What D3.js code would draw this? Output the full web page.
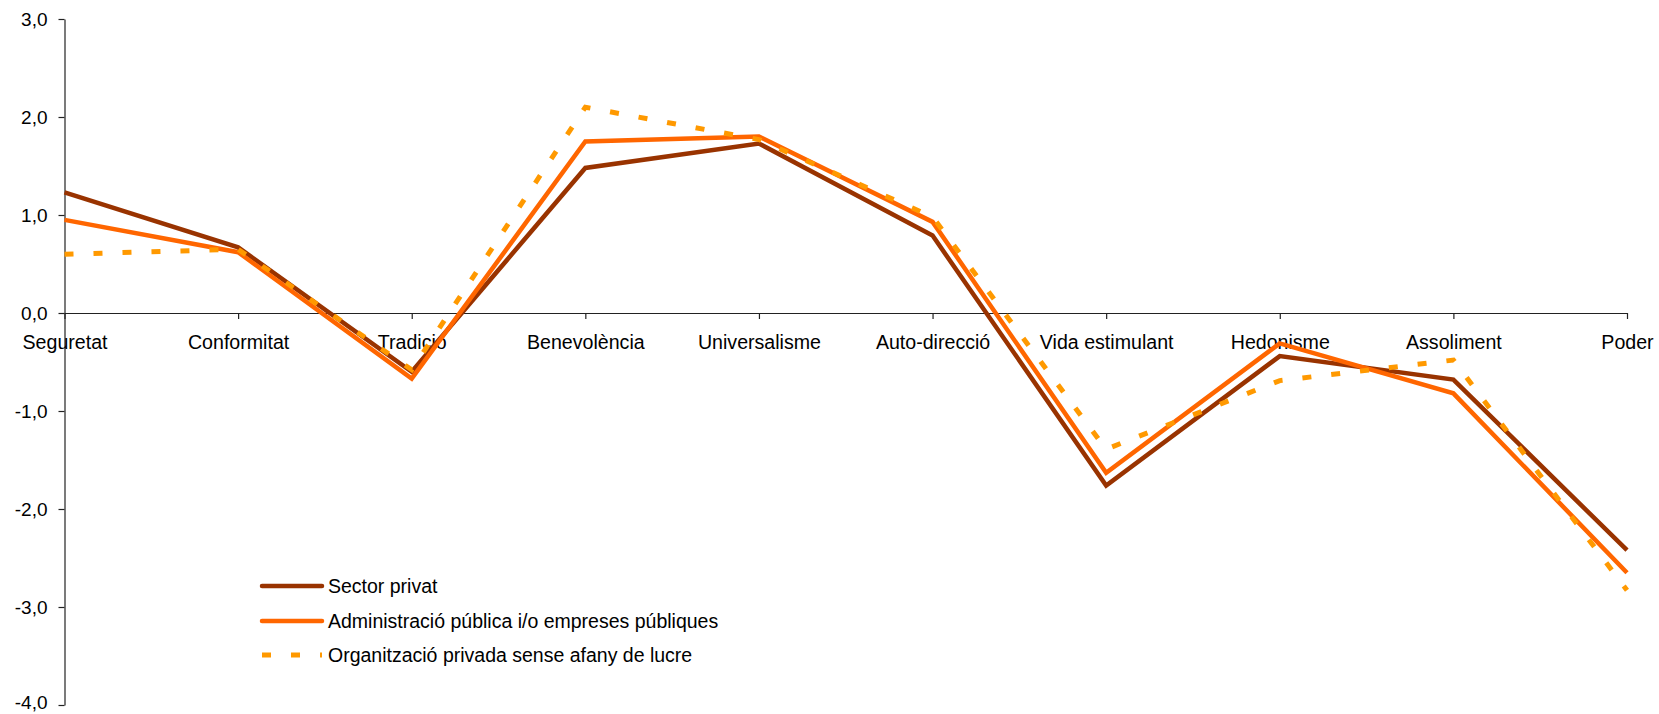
<!DOCTYPE html>
<html>
<head>
<meta charset="utf-8">
<script src="https://cdn.jsdelivr.net/npm/d3@7"></script>
<style>
  html, body { margin: 0; padding: 0; background: #fff; }
  svg { display: block; }
  text { font-family: "Liberation Sans", Arial, sans-serif; fill: #000; }
</style>
</head>
<body>
<svg id="chart" width="1659" height="714"></svg>
<script>
const categories = ["Seguretat", "Conformitat", "Tradició", "Benevolència", "Universalisme", "Auto-direcció", "Vida estimulant", "Hedonisme", "Assoliment", "Poder"];
const sectorPrivat = [1.23, 0.67, -0.60, 1.48, 1.73, 0.79, -1.76, -0.44, -0.68, -2.42];
const administracio = [0.95, 0.62, -0.67, 1.75, 1.80, 0.93, -1.63, -0.31, -0.82, -2.65];
const organitzacio = [0.60, 0.65, -0.58, 2.10, 1.77, 0.98, -1.39, -0.69, -0.48, -2.83];
const seriesNames = ["Sector privat", "Administració pública i/o empreses públiques", "Organització privada sense afany de lucre"];
const yTicks = [3, 2, 1, 0, -1, -2, -3, -4];

const series = [
  { name: seriesNames[0], values: sectorPrivat, color: "#993300", dash: null },
  { name: seriesNames[1], values: administracio, color: "#FF6600", dash: null },
  { name: seriesNames[2], values: organitzacio, color: "#FF9900", dash: "9,20" }
];

const svg = d3.select("#chart");
const x = d3.scalePoint().domain(categories).range([64.5, 1627]).padding(0);
const y = d3.scaleLinear().domain([-4, 3]).range([705, 19]);
const fmt = v => d3.format(".1f")(v).replace(".", ",").replace("−", "-");

// Y axis
const yAxis = svg.append("g")
  .attr("transform", "translate(64.5,0)")
  .call(d3.axisLeft(y).tickValues(yTicks).tickFormat(fmt).tickSize(6).tickSizeOuter(0).tickPadding(11));
yAxis.selectAll("path, line").attr("stroke", "#222").attr("stroke-width", 1.2);
yAxis.selectAll("text").attr("font-size", 19)
  .style("font-family", "'Liberation Sans', Arial, sans-serif").attr("fill", "#000");
// keep the lowest label inside the picture
yAxis.selectAll(".tick").filter(d => d === -4).select("text").attr("y", -3);

// X axis at zero
const xAxis = svg.append("g")
  .attr("transform", `translate(0,${y(0)})`)
  .call(d3.axisBottom(x).tickSize(6).tickSizeOuter(0));
xAxis.selectAll("path, line").attr("stroke", "#222").attr("stroke-width", 1.2);
xAxis.selectAll("text").attr("font-size", 19.6).attr("y", 36).attr("dy", null)
  .style("font-family", "'Liberation Sans', Arial, sans-serif").attr("fill", "#000");

// Lines
const line = d3.line().x((d, i) => x(categories[i])).y(d => y(d));
svg.append("g").selectAll("path.series").data(series).join("path")
  .attr("class", "series")
  .attr("d", s => line(s.values))
  .attr("fill", "none")
  .attr("stroke", s => s.color)
  .attr("stroke-width", s => s.dash ? 5 : 4.5)
  .attr("stroke-dasharray", s => s.dash)
  .attr("stroke-linejoin", "miter");

// Legend
const legendY = [586, 621, 655];
const lg = svg.append("g");
series.forEach((s, i) => {
  lg.append("line")
    .attr("x1", 262).attr("x2", 322)
    .attr("y1", legendY[i]).attr("y2", legendY[i])
    .attr("stroke", s.color)
    .attr("stroke-width", s.dash ? 5 : 4.5)
    .attr("stroke-dasharray", s.dash)
    .attr("stroke-linecap", s.dash ? "butt" : "round");
  lg.append("text")
    .attr("x", 328).attr("y", legendY[i])
    .attr("dy", "0.36em")
    .attr("font-size", 19.5)
    .text(s.name);
});
</script>
</body>
</html>
